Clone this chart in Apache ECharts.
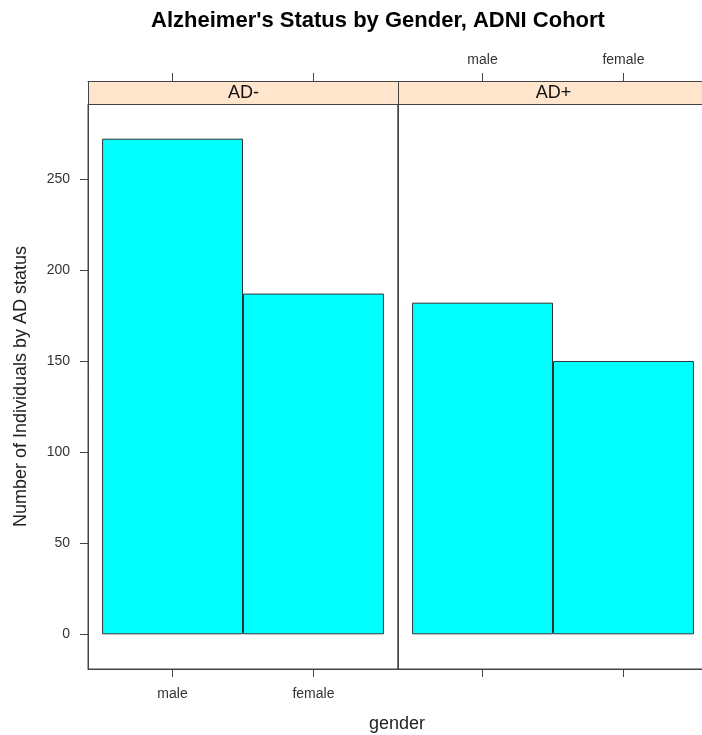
<!DOCTYPE html>
<html>
<head>
<meta charset="utf-8">
<script src="https://cdn.jsdelivr.net/npm/echarts@6/dist/echarts.min.js"></script>
<style>
html,body{margin:0;padding:0;background:#fff;}
#chart{width:702px;height:735px;}
</style>
</head>
<body>
<div id="chart"></div>
<script>
// ---- data ----
const categories = ['male', 'female'];
const panelNames = ['AD-', 'AD+'];
const adNegative = [272, 187];
const adPositive = [182, 150];
const yTicks = [0, 50, 100, 150, 200, 250];

// ---- layout ----
const FONT = '"Liberation Sans", Arial, Helvetica, sans-serif';
const PANEL_LEFT = 88, PANEL_TOP = 104, PANEL_W = 310, PANEL_H = 565, STRIP_H = 23;
const LINE = '#444';
const TEXT = '#333';

const allVals = adNegative.concat(adPositive);
const yMax = Math.max.apply(null, allVals);
const yPad = 0.07 * yMax;
const xTickVals = categories.map((c, i) => i + 1);
const xMin = 0.4, xMax = categories.length + 0.6;

function toPairs(vals) { return vals.map((v, i) => [i + 1, v]); }

const grids = panelNames.map((p, i) => ({
  left: PANEL_LEFT + i * PANEL_W, top: PANEL_TOP, width: PANEL_W, height: PANEL_H,
  outerBoundsMode: 'none', containLabel: false,
  show: true, borderColor: LINE, borderWidth: 1, backgroundColor: 'transparent'
}));

function xAxis(gridIndex, position, showLabel) {
  return {
    type: 'value', gridIndex: gridIndex, position: position,
    offset: position === 'top' ? STRIP_H : 0,
    min: xMin, max: xMax,
    axisLine: { show: true, onZero: false, lineStyle: { color: LINE, width: 1 } },
    axisTick: { show: true, inside: false, length: 8, customValues: xTickVals, lineStyle: { color: LINE } },
    axisLabel: {
      show: showLabel, customValues: xTickVals, margin: position === 'top' ? 14 : 18,
      formatter: v => categories[Math.round(v) - 1] || '',
      fontFamily: FONT, fontSize: 14, color: TEXT
    },
    splitLine: { show: false }
  };
}

function yAxis(gridIndex, showLabel) {
  return {
    type: 'value', gridIndex: gridIndex, position: 'left',
    min: -yPad, max: yMax + yPad,
    axisLine: { show: true, onZero: false, lineStyle: { color: LINE, width: 1 } },
    axisTick: { show: showLabel, inside: false, length: 8, customValues: yTicks, lineStyle: { color: LINE } },
    axisLabel: {
      show: showLabel, customValues: yTicks, margin: 18,
      fontFamily: FONT, fontSize: 14, color: TEXT
    },
    splitLine: { show: false },
    name: showLabel ? 'Number of Individuals by AD status' : '',
    nameLocation: 'middle', nameGap: 58,
    nameTextStyle: { fontFamily: FONT, fontSize: 18, color: '#222' }
  };
}

const barStyle = { color: '#00FFFF', borderColor: '#333', borderWidth: 1 };

const option = {
  animation: false,
  backgroundColor: '#fff',
  title: [
    {
      text: "Alzheimer's Status by Gender, ADNI Cohort",
      left: 378, top: 10, textAlign: 'center', padding: 0,
      textStyle: { fontFamily: FONT, fontSize: 22, fontWeight: 'bold', color: '#000' }
    },
    {
      text: 'gender',
      left: 397, top: 715, textAlign: 'center', padding: 0,
      textStyle: { fontFamily: FONT, fontSize: 18, fontWeight: 'normal', color: '#222' }
    }
  ],
  grid: grids,
  xAxis: [
    xAxis(0, 'bottom', true),
    xAxis(0, 'top', false),
    xAxis(1, 'bottom', false),
    xAxis(1, 'top', true)
  ],
  yAxis: [yAxis(0, true), yAxis(1, false)],
  series: [
    { type: 'bar', name: panelNames[0], xAxisIndex: 0, yAxisIndex: 0, data: toPairs(adNegative), barWidth: '100%', itemStyle: barStyle, silent: true },
    { type: 'bar', name: panelNames[1], xAxisIndex: 2, yAxisIndex: 1, data: toPairs(adPositive), barWidth: '100%', itemStyle: barStyle, silent: true }
  ],
  graphic: panelNames.map((p, i) => ({
    type: 'group',
    left: PANEL_LEFT + i * PANEL_W, top: PANEL_TOP - STRIP_H,
    children: [
      { type: 'rect', shape: { x: 0, y: 0, width: PANEL_W, height: STRIP_H },
        style: { fill: '#FFE5CC', stroke: LINE, lineWidth: 1 } },
      { type: 'text', x: PANEL_W / 2, y: STRIP_H / 2,
        style: { text: p, fill: '#111', font: '18px ' + FONT, textAlign: 'center', textVerticalAlign: 'middle' } }
    ]
  }))
};

const chart = echarts.init(document.getElementById('chart'), null, { renderer: 'canvas' });
chart.setOption(option);
</script>
</body>
</html>
